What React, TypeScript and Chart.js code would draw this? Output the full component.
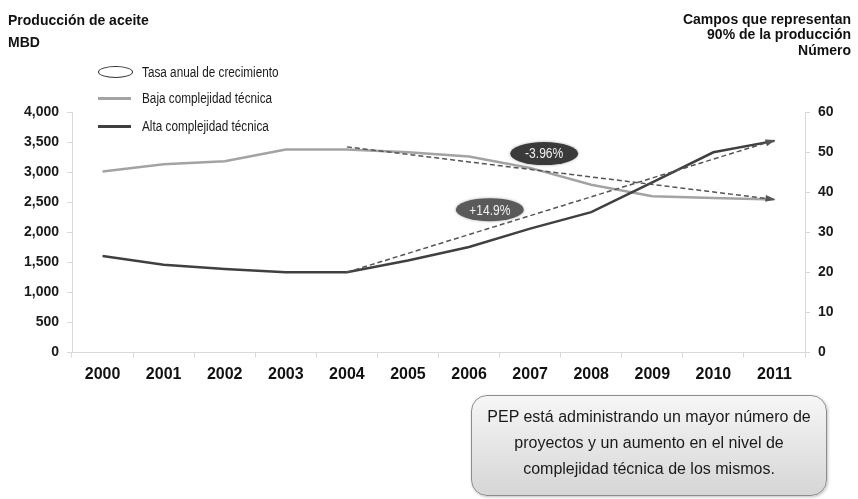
import React, { useEffect, useRef } from "react";
import { Chart, registerables } from "chart.js";

Chart.register(...registerables);

const years = ["2000", "2001", "2002", "2003", "2004", "2005", "2006", "2007", "2008", "2009", "2010", "2011"];
const bajaValues = [3010, 3130, 3180, 3375, 3375, 3330, 3260, 3070, 2790, 2600, 2570, 2545];
const altaValues = [1605, 1460, 1390, 1335, 1335, 1530, 1755, 2060, 2335, 2830, 3330, 3520];
const trendBaja = [null, null, null, null, 3420, null, null, null, null, null, null, 2545];
const trendAlta = [null, null, null, null, 1335, null, null, null, null, null, null, 3530];
const badgeLabels = ["-3.96%", "+14.9%"];
const badgeX = [7.23, 6.34];
const badgeY = [3308, 2375];
const badgeFill = ["#3a3a3a", "#5a5a5a"];

const SANS = "'Liberation Sans', Arial, sans-serif";

const annotPlugin = {
  id: "annot",
  afterDatasetsDraw(chart: any) {
    const ctx = chart.ctx;
    // arrow heads on trend lines
    [0, 1].forEach((di) => {
      const meta = chart.getDatasetMeta(di);
      const ds = chart.data.datasets[di].data;
      const pts = meta.data.filter((_: any, i: number) => ds[i] != null);
      if (pts.length < 2) return;
      const a = pts[pts.length - 2];
      const b = pts[pts.length - 1];
      const ang = Math.atan2(b.y - a.y, b.x - a.x);
      const len = 9;
      const hw = 3.5;
      ctx.save();
      ctx.fillStyle = "#555555";
      ctx.translate(b.x, b.y);
      ctx.rotate(ang);
      ctx.beginPath();
      ctx.moveTo(1, 0);
      ctx.lineTo(-len, -hw);
      ctx.lineTo(-len, hw);
      ctx.closePath();
      ctx.fill();
      ctx.restore();
    });
    // ellipse badges
    const xs = chart.scales.x;
    const ys = chart.scales.y;
    badgeLabels.forEach((label, i) => {
      const cx = xs.getPixelForValue(badgeX[i]);
      const cy = ys.getPixelForValue(badgeY[i]);
      ctx.save();
      ctx.shadowColor = "rgba(0,0,0,0.35)";
      ctx.shadowBlur = 3;
      ctx.fillStyle = badgeFill[i];
      ctx.beginPath();
      ctx.ellipse(cx, cy, 34, 11.5, 0, 0, Math.PI * 2);
      ctx.fill();
      ctx.restore();
      ctx.save();
      ctx.translate(cx, cy + 1);
      ctx.scale(0.86, 1);
      ctx.fillStyle = "#f2f2f2";
      ctx.font = `14px ${SANS}`;
      ctx.textAlign = "center";
      ctx.textBaseline = "middle";
      ctx.fillText(label, 0, 0);
      ctx.restore();
    });
  },
};

export default function App() {
  const canvasRef = useRef<HTMLCanvasElement | null>(null);

  useEffect(() => {
    document.body.style.margin = "0";
    const canvas = canvasRef.current;
    if (!canvas) return;
    const chart = new Chart(canvas, {
      type: "line",
      data: {
        labels: years,
        datasets: [
          {
            label: "trendBaja",
            data: trendBaja,
            borderColor: "#555555",
            borderWidth: 1.5,
            borderDash: [5, 3],
            pointRadius: 0,
            spanGaps: true,
            yAxisID: "y",
            order: 0,
          },
          {
            label: "trendAlta",
            data: trendAlta,
            borderColor: "#555555",
            borderWidth: 1.5,
            borderDash: [5, 3],
            pointRadius: 0,
            spanGaps: true,
            yAxisID: "y",
            order: 0,
          },
          {
            label: "Alta complejidad técnica",
            data: altaValues,
            borderColor: "#404040",
            borderWidth: 2.5,
            pointRadius: 0,
            tension: 0,
            yAxisID: "y",
            order: 1,
          },
          {
            label: "Baja complejidad técnica",
            data: bajaValues,
            borderColor: "#a3a3a3",
            borderWidth: 2.5,
            pointRadius: 0,
            tension: 0,
            yAxisID: "y",
            order: 2,
          },
        ],
      },
      options: {
        animation: false,
        responsive: true,
        maintainAspectRatio: false,
        layout: { padding: { top: 112, left: 0, right: 0, bottom: 0 } },
        plugins: { legend: { display: false }, tooltip: { enabled: false } },
        scales: {
          x: {
            type: "category",
            offset: true,
            grid: {
              display: true,
              drawOnChartArea: false,
              drawTicks: true,
              tickLength: 5,
              color: "#d9d9d9",
              offset: true,
            },
            border: { color: "#d9d9d9" },
            ticks: {
              color: "#111111",
              font: { family: SANS, size: 16, weight: "bold" },
              padding: 7,
              maxRotation: 0,
              autoSkip: false,
            },
            afterFit: (s: any) => {
              s.height = 146.5;
            },
          },
          y: {
            position: "left",
            min: 0,
            max: 4000,
            ticks: {
              stepSize: 500,
              color: "#1a1a1a",
              font: { family: SANS, size: 14, weight: "bold" },
              padding: 8,
              callback: (v: any) => Number(v).toLocaleString("en-US"),
            },
            grid: { drawOnChartArea: false, drawTicks: true, tickLength: 5, color: "#d9d9d9" },
            border: { color: "#d9d9d9" },
            afterFit: (s: any) => {
              s.width = 72;
            },
          },
          y1: {
            position: "right",
            min: 0,
            max: 60,
            ticks: {
              stepSize: 10,
              color: "#1a1a1a",
              font: { family: SANS, size: 14, weight: "bold" },
              padding: 8,
            },
            grid: { drawOnChartArea: false, drawTicks: true, tickLength: 5, color: "#d9d9d9" },
            border: { color: "#d9d9d9" },
            afterFit: (s: any) => {
              s.width = 53;
            },
          },
        },
      },
      plugins: [annotPlugin],
    } as any);
    return () => chart.destroy();
  }, []);

  const legendText: React.CSSProperties = {
    position: "absolute",
    left: 142,
    fontFamily: SANS,
    fontSize: 14,
    lineHeight: "16px",
    color: "#1a1a1a",
    whiteSpace: "nowrap",
    transform: "scaleX(0.84)",
    transformOrigin: "left center",
  };

  return (
    <div style={{ position: "absolute", left: 0, top: 0, width: 858, height: 499, background: "#ffffff", overflow: "hidden" }}>
      <canvas ref={canvasRef} />
      <div
        style={{
          position: "absolute",
          left: 8,
          top: 9,
          fontFamily: SANS,
          fontWeight: "bold",
          fontSize: 14,
          lineHeight: "22px",
          color: "#111",
        }}
      >
        Producción de aceite
        <br />
        MBD
      </div>
      <div
        style={{
          position: "absolute",
          right: 7,
          top: 11.5,
          fontFamily: SANS,
          fontWeight: "bold",
          fontSize: 14,
          lineHeight: "15.5px",
          color: "#111",
          textAlign: "right",
        }}
      >
        Campos que representan
        <br />
        90% de la producción
        <br />
        Número
      </div>
      <div
        style={{
          position: "absolute",
          left: 98,
          top: 66,
          width: 33,
          height: 10,
          border: "1px solid #333",
          borderRadius: "50%",
        }}
      />
      <div style={{ ...legendText, top: 64 }}>Tasa anual de crecimiento</div>
      <div style={{ position: "absolute", left: 98, top: 97, width: 33, height: 3, background: "#a3a3a3" }} />
      <div style={{ ...legendText, top: 90 }}>Baja complejidad técnica</div>
      <div style={{ position: "absolute", left: 98, top: 125, width: 33, height: 3, background: "#404040" }} />
      <div style={{ ...legendText, top: 118 }}>Alta complejidad técnica</div>
      <div
        style={{
          position: "absolute",
          left: 471,
          top: 395,
          width: 356,
          height: 101,
          boxSizing: "border-box",
          border: "1.5px solid #8c8c8c",
          borderRadius: 16,
          background: "linear-gradient(#f6f6f6, #d6d6d6)",
          boxShadow: "1px 1px 3px rgba(0,0,0,0.25)",
          fontFamily: SANS,
          fontSize: 16,
          lineHeight: "26px",
          color: "#1a1a1a",
          textAlign: "center",
          paddingTop: 8,
        }}
      >
        PEP está administrando un mayor número de
        <br />
        proyectos y un aumento en el nivel de
        <br />
        complejidad técnica de los mismos.
      </div>
    </div>
  );
}
